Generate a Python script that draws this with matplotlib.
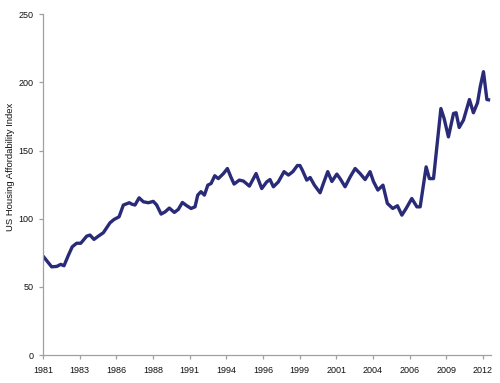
import matplotlib
matplotlib.use("Agg")
import matplotlib.pyplot as plt

# (decimal year, index value)
years = [
    1981.00, 1981.61, 1981.97, 1982.25, 1982.48, 1982.78, 1983.06, 1983.37, 1983.66,
    1984.08, 1984.31, 1984.59, 1984.90, 1985.25, 1985.72, 1986.00, 1986.36, 1986.66,
    1987.08, 1987.25, 1987.48, 1987.77, 1988.07, 1988.42, 1988.77, 1989.01, 1989.32,
    1989.60, 1989.90, 1990.25, 1990.53, 1990.82, 1991.13, 1991.43, 1991.71, 1991.90,
    1992.13, 1992.37, 1992.61, 1992.84, 1993.10, 1993.35, 1993.71, 1993.99, 1994.23,
    1994.46, 1994.83, 1995.12, 1995.54, 1996.01, 1996.41, 1996.76, 1996.99, 1997.23,
    1997.58, 1997.98, 1998.29, 1998.60, 1998.92, 1999.10, 1999.27, 1999.58, 1999.82,
    2000.12, 2000.52, 2000.75, 2001.06, 2001.35, 2001.70, 2001.93, 2002.28, 2002.64,
    2002.99, 2003.34, 2003.69, 2004.04, 2004.28, 2004.59, 2004.95, 2005.26, 2005.64,
    2005.97, 2006.28, 2006.58, 2006.98, 2007.34, 2007.57, 2007.99, 2008.22, 2008.51,
    2009.03, 2009.26, 2009.56, 2009.92, 2010.10, 2010.32, 2010.62, 2011.04, 2011.32,
    2011.61, 2011.80, 2012.03, 2012.27, 2012.50,
]
index_values = [
    72.6, 64.7, 65.0, 66.5, 65.5, 73.0, 79.4, 82.0, 82.0,
    87.2, 88.0, 84.8, 87.2, 89.7, 97.0, 99.4, 101.4, 110.0,
    111.7, 110.7, 110.0, 115.3, 112.4, 111.7, 112.7, 110.0, 103.4,
    105.0, 107.8, 104.6, 106.8, 111.9, 109.5, 107.5, 108.7, 117.3,
    119.8, 117.3, 124.6, 125.8, 131.5, 129.4, 133.1, 136.8, 130.7,
    125.4, 128.3, 127.6, 123.9, 133.1, 122.1, 127.0, 128.7, 123.4,
    127.0, 134.5, 132.0, 134.5, 139.0, 139.0, 135.6, 128.3, 130.2,
    124.6, 119.0, 125.8, 134.5, 127.3, 132.7, 129.4, 123.4, 130.7,
    136.8, 133.1, 128.7, 134.5, 127.3, 121.0, 124.6, 111.2, 107.5,
    109.5, 102.6, 107.5, 114.8, 108.7, 108.7, 138.0, 129.4, 129.4,
    180.8, 173.4, 160.0, 177.2, 177.7, 166.9, 172.3, 187.4, 177.7,
    185.0, 196.7, 207.8, 187.4, 187.0,
]
tick_labels = ["1981", "1983", "1986", "1988", "1991", "1994", "1996",
               "1999", "2001", "2004", "2006", "2009", "2012"]
y_ticks = [0, 50, 100, 150, 200, 250]

plt.rcParams["font.family"] = ["Liberation Sans", "DejaVu Sans"]

fig = plt.figure(figsize=(5.0, 3.83), dpi=100)
ax = fig.add_axes([0.086, 0.073, 0.896, 0.890])

ax.plot(years, index_values, color="#2a2b78", linewidth=2.4,
        solid_joinstyle="round", solid_capstyle="butt")

# category-style axis: 13 evenly spaced labels from 1981 to 2012
n = len(tick_labels)
tick_pos = [1981 + i * 31 / (n - 1) for i in range(n)]
ax.set_xticks(tick_pos)
ax.set_xticklabels(tick_labels)
ax.set_xlim(1981, 2012.56)
ax.set_yticks(y_ticks)
ax.set_ylim(0, 250)

for side in ("top", "right"):
    ax.spines[side].set_visible(False)
for side in ("left", "bottom"):
    ax.spines[side].set_color("#a0a0a0")
    ax.spines[side].set_linewidth(0.9)
ax.tick_params(axis="both", colors="#a0a0a0", length=3, width=0.9,
               labelsize=6.5, labelcolor="#111111")
ax.tick_params(axis="x", pad=5)
ax.tick_params(axis="y", pad=4)
ax.set_ylabel("US Housing Affordability Index", fontsize=6.8, color="#111111")
ax.yaxis.set_label_coords(-0.062, 0.553)

fig.savefig("out.png", dpi=100)
